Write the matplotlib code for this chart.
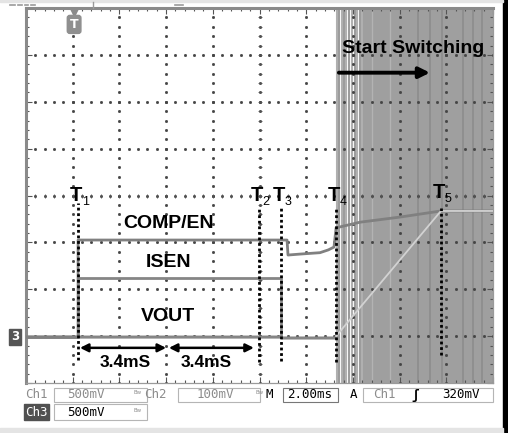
import numpy as np
import matplotlib.pyplot as plt
from matplotlib.patches import Rectangle

W, H = 508, 433

# time in ms (2 ms/div), vertical in divisions (-4..4)
t_marks = [2.23, 9.98, 10.92, 13.28, 17.77]
mark_names = ['1', '2', '3', '4', '5']
mark_top = [-0.16, -0.27, -0.27, -0.27, -0.27]
mark_bot = [-3.51, -3.55, -3.53, -3.55, -3.40]

comp_t = [0, 2.23, 2.23, 11.18, 11.22, 11.73, 12.59, 12.95, 13.19, 13.28, 14.3, 16.02, 17.77, 20]
comp_v = [-3.02, -3.02, -0.95, -0.95, -1.27, -1.25, -1.22, -1.16, -1.10, -0.69, -0.57, -0.46, -0.33, -0.33]

isen_t = [0, 2.23, 2.23, 10.92, 10.92]
isen_v = [-3.02, -3.02, -1.76, -1.76, -3.02]

vout_t = [0, 10.92, 10.95, 13.28]
vout_v = [-3.02, -3.02, -3.04, -3.04]
ramp_t = [13.28, 17.77, 20]
ramp_v = [-3.0, -0.33, -0.33]

# switching edges (ms)
sw_sparse = [13.32, 13.40, 13.53, 13.62, 13.70, 13.83, 13.96, 14.09, 14.18, 14.30, 14.39]
sw_dense_start = 14.43
sw_dark = [16.79, 17.30, 17.82, 18.72, 19.14, 19.55]
sw_light = [14.82, 15.6]


def fx(px):
    return px / W


def fy(py):
    return 1 - py / H


fig = plt.figure(figsize=(W / 100, H / 100), dpi=100)
fig.patch.set_facecolor('white')

ax = fig.add_axes([fx(26), 50 / H, 467 / W, 375 / H])
ax.set_xlim(0, 20)
ax.set_ylim(-4, 4)
ax.set_facecolor('white')

# switching region
ax.axvspan(sw_dense_start, 20, color='#9f9f9f', lw=0, zorder=1)
for i, x in enumerate(sw_sparse):
    ax.axvline(x, color='#9c9c9c' if i % 2 else '#b0b0b0', lw=1.5, zorder=1)
for x in sw_dark:
    ax.axvline(x, color='#8e8e8e', lw=1.3, zorder=1)
for x in sw_light:
    ax.axvline(x, color='#b3b3b3', lw=1.0, zorder=1)

# graticule dots
for gx in np.arange(2, 20, 2):
    yy = np.arange(-4, 4.01, 0.2)
    ax.plot(np.full_like(yy, gx), yy, ls='none', marker='s', ms=1.0, color='#444', zorder=2)
for gy in np.arange(-3, 4, 1):
    xx = np.arange(0, 20.01, 0.4)
    ax.plot(xx, np.full_like(xx, gy), ls='none', marker='s', ms=1.0, color='#444', zorder=2)
xx = np.arange(0, 20.01, 0.4)
ax.plot(xx, np.zeros_like(xx), ls='none', marker='|', ms=2.5, mew=0.6, color='#555', zorder=2)
yy = np.arange(-4, 4.01, 0.2)
ax.plot(np.full_like(yy, 10), yy, ls='none', marker='_', ms=2.5, mew=0.6, color='#555', zorder=2)

# frame
for s in ['left', 'top']:
    ax.spines[s].set_color('#8a8a8a')
    ax.spines[s].set_linewidth(2.2)
for s in ['right', 'bottom']:
    ax.spines[s].set_color('#9a9a9a')
    ax.spines[s].set_linewidth(0.9)
ax.set_xticks(np.arange(0, 20.01, 2))
ax.set_xticks(np.arange(0, 20.01, 0.4), minor=True)
ax.set_yticks(np.arange(-4, 4.01, 1))
ax.set_yticks(np.arange(-4, 4.01, 0.2), minor=True)
ax.tick_params(which='both', direction='in', top=True, right=True,
               labelbottom=False, labelleft=False, color='#555', width=0.8)
ax.tick_params(which='major', length=4)
ax.tick_params(which='minor', length=2.5)

# traces
ax.plot(vout_t, vout_v, color='#858585', lw=2.2, zorder=3)
ax.plot(isen_t, isen_v, color='#858585', lw=2.0, zorder=3)
ax.plot(comp_t, comp_v, color='#808080', lw=2.0, zorder=3)
ax.plot(ramp_t, ramp_v, color='#d2d2d2', lw=1.3, zorder=3)

# T markers
for t, n, y0, y1 in zip(t_marks, mark_names, mark_top, mark_bot):
    ax.plot([t, t], [y1, y0], color='black', lw=2.0, ls=(0, (1, 1)),
            dash_capstyle='butt', zorder=4)
    ty = 0.06 if n == '5' else 0.0
    ax.text(t - 0.1, ty, 'T', ha='center', va='center', fontsize=14.5,
            fontweight='bold', family='Liberation Sans', zorder=5)
    ax.text(t + 0.3, ty - 0.14, n, ha='center', va='center', fontsize=9,
            family='Liberation Sans', zorder=5)

# labels
lab = dict(ha='center', va='center', fontsize=14, fontweight='bold',
           family='Liberation Sans', zorder=5)
ax.text(6.12, -0.59, 'COMP/EN', **lab)
ax.text(6.12, -1.42, 'ISEN', **lab)
ax.text(6.08, -2.59, 'VOUT', **lab)

arr = dict(arrowstyle='<|-|>', color='black', lw=1.8, mutation_scale=12,
           shrinkA=0, shrinkB=0)
ax.annotate('', xy=(2.31, -3.25), xytext=(6.0, -3.25), arrowprops=arr, zorder=5)
ax.annotate('', xy=(6.12, -3.25), xytext=(9.76, -3.25), arrowprops=arr, zorder=5)
ax.text(4.24, -3.57, '3.4mS', ha='center', va='center', fontsize=12.5,
        fontweight='bold', family='Liberation Sans', zorder=5)
ax.text(7.71, -3.57, '3.4mS', ha='center', va='center', fontsize=12.5,
        fontweight='bold', family='Liberation Sans', zorder=5)

ax.text(13.53, 3.14, 'Start Switching', ha='left', va='center', fontsize=14,
        fontweight='bold', family='Liberation Sans', zorder=5)
ax.annotate('', xy=(17.3, 2.62), xytext=(13.4, 2.62),
            arrowprops=dict(arrowstyle='-|>', color='black', lw=2.8,
                            mutation_scale=16, shrinkA=0, shrinkB=0), zorder=5)

# trigger marker
ax.plot([2.06], [3.92], marker='v', ms=6, color='#8a8a8a', clip_on=False, zorder=6)
ax.text(2.06, 3.65, 'T', ha='center', va='center', fontsize=9, fontweight='bold',
        color='white', family='DejaVu Sans', zorder=6,
        bbox=dict(boxstyle='round,pad=0.2', fc='#8f8f8f', ec='#8f8f8f'))

# channel 3 ground marker
fig.text(fx(15), fy(337), '3', ha='center', va='center', fontsize=8.5,
         fontweight='bold', color='white',
         bbox=dict(boxstyle='square,pad=0.15', fc='#555555', ec='#555555'))

# top indicator marks
for x0, x1 in [(10, 15), (18, 22), (25, 28), (31, 35), (175, 183)]:
    fig.add_artist(plt.Line2D([fx(x0), fx(x1)], [fy(5), fy(5)], color='#9a9a9a', lw=1.2))
fig.add_artist(plt.Line2D([fx(93), fx(93)], [fy(2), fy(8)], color='#9a9a9a', lw=1.0))

# status bar
gray = '#8c8c8c'
mono = dict(family='DejaVu Sans Mono', fontsize=9, va='center', ha='left')
for (x0, y0, w, h, ec) in [(54, 388, 93, 14, '#b5b5b5'), (54, 404, 93, 16, '#b5b5b5'),
                           (178, 388, 82, 14, '#b5b5b5'), (283, 388, 55, 14, '#777777'),
                           (363, 388, 130, 14, '#b5b5b5')]:
    fig.add_artist(Rectangle((fx(x0), fy(y0 + h)), w / W, h / H, fill=False,
                             ec=ec, lw=0.8, transform=fig.transFigure))
fig.text(fx(25), fy(395), 'Ch1', color=gray, **mono)
fig.text(fx(67), fy(395), '500mV', color=gray, **mono)
fig.text(fx(134), fy(393), 'Bw', color=gray, family='DejaVu Sans', fontsize=4, va='center')
fig.text(fx(144), fy(395), 'Ch2', color=gray, **mono)
fig.text(fx(197), fy(395), '100mV', color=gray, **mono)
fig.text(fx(255), fy(393), 'Bw', color=gray, family='DejaVu Sans', fontsize=4, va='center')
fig.text(fx(266), fy(395), 'M', color='black', **mono)
fig.text(fx(287), fy(395), '2.00ms', color='black', **mono)
fig.text(fx(350), fy(395), 'A', color='black', **mono)
fig.text(fx(373), fy(395), 'Ch1', color=gray, **mono)
fig.text(fx(411), fy(395), 'ʃ', color='black', fontweight='bold', **mono)
fig.text(fx(442), fy(395), '320mV', color='black', **mono)
fig.text(fx(25), fy(412), 'Ch3', color='white', **mono,
         bbox=dict(boxstyle='square,pad=0.12', fc='#505050', ec='#505050'))
fig.text(fx(67), fy(412), '500mV', color='black', **mono)
fig.text(fx(134), fy(410), 'Bw', color=gray, family='DejaVu Sans', fontsize=4, va='center')

# outer border strips
fig.add_artist(Rectangle((fx(503), 0), 5 / W, 1, color='black', transform=fig.transFigure))
fig.add_artist(Rectangle((0, 0), 503 / W, 5 / H, color='#e4e4e4', transform=fig.transFigure))
fig.add_artist(Rectangle((0, fy(2)), 503 / W, 2 / H, color='#e4e4e4', transform=fig.transFigure))

fig.savefig('out.png', dpi=100)
